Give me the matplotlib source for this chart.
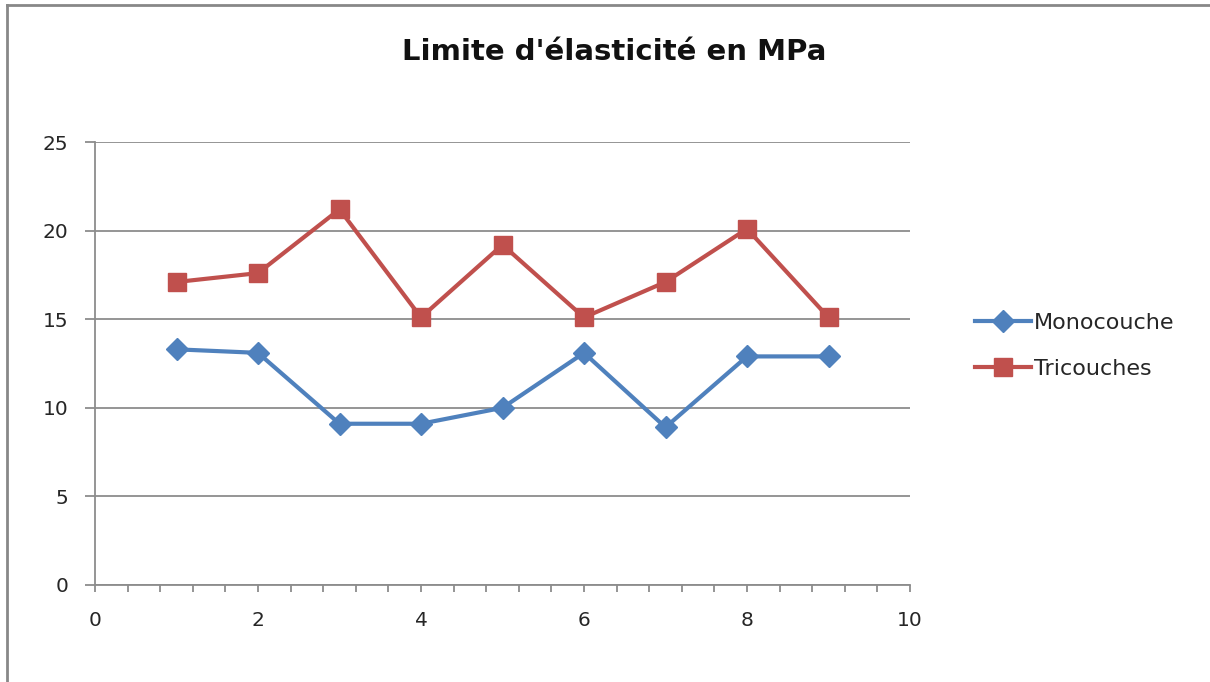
import numpy as np
import matplotlib
matplotlib.use("Agg")
import matplotlib.pyplot as plt
from matplotlib.ticker import MultipleLocator
from matplotlib.lines import Line2D

# valeurs mesurées pour chaque éprouvette
essais = [1, 2, 3, 4, 5, 6, 7, 8, 9]
monocouche = [13.3, 13.1, 9.1, 9.1, 10.0, 13.1, 8.9, 12.9, 12.9]
tricouches = [17.1, 17.6, 21.2, 15.1, 19.2, 15.1, 17.1, 20.1, 15.1]
noms = ["Monocouche", "Tricouches"]
titre = "Limite d'élasticité en MPa"

bleu = "#4F81BD"
rouge = "#C0504D"
gris = "#8C8C8C"

plt.rcParams['font.family'] = ['DejaVu Sans']

fig = plt.figure(figsize=(12.1, 6.82), dpi=100)
ax = fig.add_axes([95/1210, 1 - 585/682, 815/1210, 443/682])

ax.plot(essais, monocouche, color=bleu, lw=3, marker="D", ms=11,
        label=noms[0], solid_joinstyle="round")
ax.plot(essais, tricouches, color=rouge, lw=3, marker="s", ms=12.5,
        label=noms[1], solid_joinstyle="round")

ax.set_xlim(0, 10)
ax.set_ylim(0, 25)
ax.xaxis.set_major_locator(MultipleLocator(2))
ax.xaxis.set_minor_locator(MultipleLocator(0.4))
ax.yaxis.set_major_locator(MultipleLocator(5))

ax.grid(axis="y", color=gris, lw=1.3)
ax.set_axisbelow(True)
for s in ["top", "right"]:
    ax.spines[s].set_visible(False)
for s in ["left", "bottom"]:
    ax.spines[s].set_color(gris)
    ax.spines[s].set_linewidth(1.3)

ax.tick_params(axis="y", which="major", length=7, width=1.3, color=gris,
               labelsize=14.5, pad=12, labelcolor="#262626")
ax.tick_params(axis="x", which="both", length=5, width=1.3, color=gris,
               labelsize=14.5, pad=14, labelcolor="#262626")

fig.text(614/1210, 1 - 52/682, titre, ha="center", va="center",
         fontsize=21, fontweight="bold", color="#111111")

poignees = [Line2D([], [], color=bleu, lw=3, marker="D", ms=11),
            Line2D([], [], color=rouge, lw=3, marker="s", ms=12.5)]
fig.legend(poignees, noms, loc="center left",
           bbox_to_anchor=(955/1210, 1 - 346/682), frameon=False,
           handlelength=2.5, handletextpad=0.15,
           labelspacing=1.15, prop={"size": 16}, labelcolor="#262626")

# cadre de la zone graphique
fig.add_artist(Line2D([7/1210, 1], [1 - 5/682, 1 - 5/682],
                      transform=fig.transFigure, color="#888888", lw=2))
fig.add_artist(Line2D([7/1210, 7/1210], [0, 1 - 5/682],
                      transform=fig.transFigure, color="#888888", lw=2))

fig.savefig("out.png", dpi=100, facecolor="white")
